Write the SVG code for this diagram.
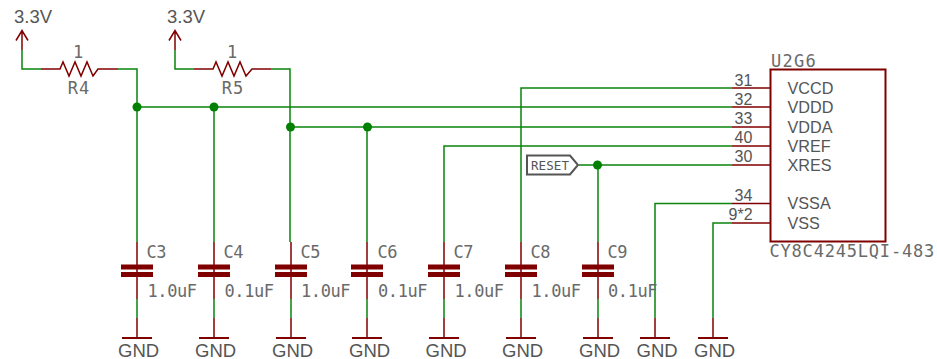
<svg xmlns="http://www.w3.org/2000/svg" width="937" height="359" viewBox="0 0 937 359">
<defs>
<style>
.w{fill:none;stroke:#0a840a;stroke-width:1.5}
.m{fill:none;stroke:#800000;stroke-width:1.5}
.b{fill:none;stroke:#800000;stroke-width:2}
.p{fill:#800000;stroke:none}
.j{fill:#008000;stroke:none}
text{fill:#555;font-family:"Liberation Sans",Arial,sans-serif}
.s{font-size:18.500px}
.n{font-size:16px}
.l{font-size:16.200px}
.v{font-family:"DejaVu Sans Mono",monospace;font-size:17px;fill:#6a6a6a;letter-spacing:-.4px}
</style>
<g id="cap"><path class="m" d="M0 242V299M0 318V338"/><rect class="p" x="-16" y="264.500" width="32" height="5"/><rect class="p" x="-16" y="272" width="32" height="5"/><path class="b" d="M-15 338H15"/></g>
<g id="gnd"><path class="m" d="M0 318V338"/><path class="b" d="M-15 338H15"/></g>
</defs>
<g id="connectors">
<path class="w" d="M22 50V69H41M118 69H137V242M175 50V69H194M271 69H290V242M137 107H732M214 107V242M290 127H732M367 127V242M521 242V88H732M444 242V146H732M579 165H732M598 165V242M137 299V318M214 299V318M291 299V318M367 299V318M444 299V318M521 299V318M598 299V318M655 318V203.500H732M713 318V223H732"/>
<circle class="j" cx="137" cy="107" r="4.500"/><circle class="j" cx="214" cy="107" r="4.500"/><circle class="j" cx="290.500" cy="127" r="4.500"/><circle class="j" cx="367.500" cy="127" r="4.500"/><circle class="j" cx="597.500" cy="165" r="4.500"/>
</g>
<g id="pwr1"><path class="m" d="M22 50V30.500M16 40.500L22 30.500L28 40.500"/><text class="s" x="14" y="23">3.3V</text></g>
<g id="pwr2"><path class="m" d="M175 50V30.500M169 40.500L175 30.500L181 40.500"/><text class="s" x="167" y="23">3.3V</text></g>
<g id="R4"><path class="m" d="M41 69H60L63 62L69 76L75 62L81 76L87 62L93 76L98 69H118"/><text class="v" x="78" y="58" text-anchor="middle">1</text><text class="v" x="79" y="93.500" text-anchor="middle" style="letter-spacing:1px">R4</text></g>
<g id="R5"><path class="m" d="M194 69H213L216 62L222 76L228 62L234 76L240 62L246 76L252 69H271"/><text class="v" x="232" y="58" text-anchor="middle">1</text><text class="v" x="233" y="93.500" text-anchor="middle" style="letter-spacing:1px">R5</text></g>
<g id="C3"><use href="#cap" x="137"/><text class="v" x="146.500" y="257.500">C3</text><text class="v" x="147.500" y="296.500">1.0uF</text></g>
<g id="C4"><use href="#cap" x="214"/><text class="v" x="223.500" y="257.500">C4</text><text class="v" x="224.500" y="296.500">0.1uF</text></g>
<g id="C5"><use href="#cap" x="291"/><text class="v" x="300.500" y="257.500">C5</text><text class="v" x="301" y="296.500">1.0uF</text></g>
<g id="C6"><use href="#cap" x="367"/><text class="v" x="377.500" y="257.500">C6</text><text class="v" x="378" y="296.500">0.1uF</text></g>
<g id="C7"><use href="#cap" x="444"/><text class="v" x="453.500" y="257.500">C7</text><text class="v" x="454.500" y="296.500">1.0uF</text></g>
<g id="C8"><use href="#cap" x="521"/><text class="v" x="530.500" y="257.500">C8</text><text class="v" x="531.500" y="296.500">1.0uF</text></g>
<g id="C9"><use href="#cap" x="598"/><text class="v" x="607.500" y="257.500">C9</text><text class="v" x="608" y="296.500">0.1uF</text></g>
<g id="G1"><text class="s" x="118" y="356.500">GND</text></g>
<g id="G2"><text class="s" x="195" y="356.500">GND</text></g>
<g id="G3"><text class="s" x="272" y="356.500">GND</text></g>
<g id="G4"><text class="s" x="349" y="356.500">GND</text></g>
<g id="G5"><text class="s" x="425.500" y="356.500">GND</text></g>
<g id="G6"><text class="s" x="502" y="356.500">GND</text></g>
<g id="G7"><text class="s" x="579" y="356.500">GND</text></g>
<g id="G8"><use href="#gnd" x="655"/><text class="s" x="636.500" y="356.500">GND</text></g>
<g id="G9"><use href="#gnd" x="713"/><text class="s" x="694" y="356.500">GND</text></g>
<g id="RESET"><path d="M527 155.500H570L578 165L570 174.500H527Z" fill="#fff" stroke="#555" stroke-width="2"/><text x="531" y="170" style="font-family:'DejaVu Sans Mono',monospace;font-size:12.500px" textLength="38">RESET</text></g>
<g id="U2G6">
<rect class="b" x="770.500" y="69.500" width="115" height="172" fill="none"/>
<path class="m" d="M732 88H770M732 107H770M732 127H770M732 146H770M732 165H770M732 203.500H770M732 223H770"/>
<text class="v" x="771" y="66.500" style="letter-spacing:1.300px">U2G6</text>
<text class="v" x="769.500" y="256.500" style="letter-spacing:.8px">CY8C4245LQI-483</text>
<text class="n" x="734.500" y="86">31</text><text class="n" x="734.500" y="105">32</text><text class="n" x="734.500" y="124">33</text><text class="n" x="734.500" y="143">40</text><text class="n" x="734.500" y="162">30</text><text class="n" x="734.500" y="201">34</text><text class="n" x="728.500" y="220">9*2</text>
<text class="l" x="787.500" y="94">VCCD</text><text class="l" x="787.500" y="113">VDDD</text><text class="l" x="787.500" y="133">VDDA</text><text class="l" x="787.500" y="152">VREF</text><text class="l" x="787.500" y="171">XRES</text><text class="l" x="787.500" y="209">VSSA</text><text class="l" x="787.500" y="229">VSS</text>
</g>
</svg>
